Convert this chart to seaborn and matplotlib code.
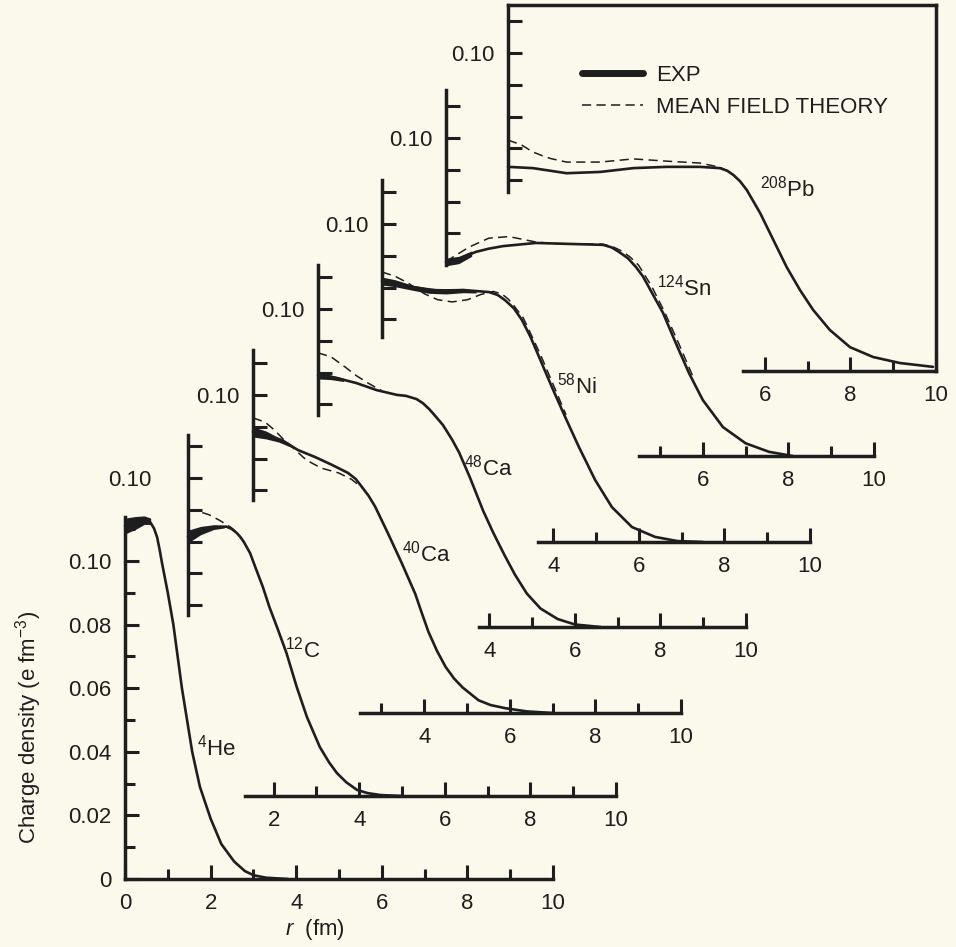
import numpy as np
import matplotlib
matplotlib.use("Agg")
import matplotlib.pyplot as plt
import seaborn as sns
from matplotlib.lines import Line2D

sns.set_theme(style="white")
plt.rcParams["font.family"] = ["Liberation Sans", "DejaVu Sans"]
plt.rcParams["mathtext.fontset"] = "custom"
plt.rcParams["mathtext.rm"] = "Liberation Sans"
plt.rcParams["mathtext.it"] = "Liberation Sans:italic"
plt.rcParams["mathtext.bf"] = "Liberation Sans:bold"

# ---------------- data (r in fm, charge density in e fm^-3) ----------------
nuclei = ["4He", "12C", "40Ca", "48Ca", "58Ni", "124Sn", "208Pb"]
labels = [r"$\mathregular{^{4}}$He", r"$\mathregular{^{12}}$C", r"$\mathregular{^{40}}$Ca",
          r"$\mathregular{^{48}}$Ca", r"$\mathregular{^{58}}$Ni", r"$\mathregular{^{124}}$Sn",
          r"$\mathregular{^{208}}$Pb"]

he_r = [0, 0.15, 0.3, 0.45, 0.6, 0.68, 0.75, 0.81, 0.87, 1.0, 1.13, 1.23, 1.33, 1.45, 1.57, 1.75, 2.0, 2.25,
        2.55, 2.8, 3.0, 3.3, 3.8]
he_rho = [0.111, 0.1125, 0.1132, 0.1132, 0.112, 0.1102, 0.1075, 0.1035, 0.099, 0.090, 0.080, 0.070, 0.060,
          0.050, 0.040, 0.029, 0.019, 0.011, 0.0055, 0.0025, 0.0012, 0.0004, 0.0]
he_band_r = [0, 0.25, 0.45, 0.6]
he_band_lo = [0.1085, 0.110, 0.1115, 0.1115]
he_band_hi = [0.1135, 0.1140, 0.1142, 0.1135]

c_r = [0, 0.3, 0.6, 0.9, 1.02, 1.14, 1.22, 1.3, 1.45, 1.6, 1.75, 1.9, 2.08, 2.3, 2.54, 2.78, 3.08, 3.3, 3.48,
       3.7, 3.95, 4.2, 4.5, 5.0]
c_rho = [0.0816, 0.0835, 0.0846, 0.0847, 0.0840, 0.0827, 0.0815, 0.080, 0.0764, 0.071, 0.0657, 0.0595, 0.0531,
         0.045, 0.0343, 0.0248, 0.0154, 0.0105, 0.0072, 0.0043, 0.0019, 0.0009, 0.0003, 0.0]
c_band_r = [0, 0.3, 0.6, 0.85]
c_band_lo = [0.0796, 0.0822, 0.0838, 0.0843]
c_band_hi = [0.0836, 0.0848, 0.0853, 0.0851]
c_th_r = [0, 0.25, 0.5, 0.75, 1.0, 1.2]
c_th_rho = [0.0899, 0.0895, 0.0884, 0.0866, 0.0845, 0.0822]

ca40_r = [0, 0.28, 0.68, 1.05, 1.45, 1.85, 2.22, 2.4, 2.55, 2.7, 2.85, 3.15, 3.48, 3.79, 3.95, 4.1, 4.3, 4.5,
          4.7, 4.9, 5.27, 5.55, 5.9, 6.4, 7.0]
ca40_rho = [0.0884, 0.0874, 0.0858, 0.0827, 0.0805, 0.078, 0.0755, 0.0736, 0.071, 0.0683, 0.065, 0.0566, 0.047,
            0.0375, 0.0312, 0.0255, 0.0195, 0.0145, 0.0108, 0.0080, 0.004, 0.0025, 0.0015, 0.0005, 0.0]
ca40_band_r = [0, 0.3, 0.6, 0.9]
ca40_band_lo = [0.0868, 0.0862, 0.0852, 0.0835]
ca40_band_hi = [0.0900, 0.0887, 0.0866, 0.0842]
ca40_th_r = [0, 0.28, 0.5, 0.7, 0.95, 1.25, 1.6, 2.0, 2.3, 2.55]
ca40_th_rho = [0.0928, 0.0915, 0.089, 0.0862, 0.0832, 0.0795, 0.0770, 0.0755, 0.0735, 0.0708]

ca48_r = [0, 0.44, 0.9, 1.37, 1.84, 2.05, 2.3, 2.45, 2.6, 2.75, 2.92, 3.13, 3.3, 3.55, 3.86, 4.1, 4.35, 4.6,
          4.88, 5.2, 5.6, 6.0, 6.6]
ca48_rho = [0.0792, 0.0783, 0.0767, 0.0745, 0.0730, 0.0727, 0.0717, 0.0704, 0.0685, 0.0662, 0.0635, 0.0590,
            0.0548, 0.0470, 0.0365, 0.0295, 0.0228, 0.0165, 0.0105, 0.0058, 0.0025, 0.0008, 0.0]
ca48_band_r = [0, 0.3, 0.6]
ca48_band_lo = [0.0780, 0.0778, 0.0772]
ca48_band_hi = [0.0803, 0.0793, 0.0782]
ca48_th_r = [0, 0.3, 0.64, 0.9, 1.17, 1.5]
ca48_th_rho = [0.0862, 0.0850, 0.0817, 0.0790, 0.0767, 0.0742]

ni_r = [0, 0.23, 0.7, 1.33, 1.94, 2.5, 2.7, 2.88, 3.08, 3.27, 3.47, 3.67, 3.97, 4.28, 4.6, 4.98, 5.37, 5.84,
        6.38, 6.9, 7.5]
ni_rho = [0.082, 0.0814, 0.0802, 0.079, 0.0792, 0.0786, 0.0777, 0.076, 0.0735, 0.0698, 0.0645, 0.0582, 0.0487,
          0.0393, 0.0299, 0.0195, 0.011, 0.0047, 0.0016, 0.0003, 0.0]
ni_band_r = [0, 0.3, 0.7, 1.1, 1.5, 1.9, 2.2]
ni_band_lo = [0.0808, 0.0803, 0.0792, 0.0782, 0.0780, 0.0784, 0.0783]
ni_band_hi = [0.0833, 0.0825, 0.0808, 0.0798, 0.0797, 0.0798, 0.0789]
ni_th_r = [0, 0.3, 0.6, 1.0, 1.3, 1.64, 2.0, 2.3, 2.6, 2.8, 2.95, 3.1, 3.3, 3.7, 4.0, 4.3]
ni_th_rho = [0.0849, 0.0836, 0.0815, 0.078, 0.0762, 0.0755, 0.0762, 0.0778, 0.0788, 0.0780, 0.0764, 0.0740,
             0.0705, 0.0590, 0.0495, 0.0400]

sn_r = [0, 0.23, 0.7, 1.0, 1.33, 2.1, 2.87, 3.67, 3.87, 4.04, 4.25, 4.44, 4.6, 4.74, 5.07, 5.37, 5.68, 6.0, 6.47,
        7.0, 7.55, 8.1]
sn_rho = [0.061, 0.0616, 0.0642, 0.0652, 0.066, 0.067, 0.0667, 0.0664, 0.0656, 0.0642, 0.0622, 0.0594, 0.0565,
          0.0531, 0.045, 0.0355, 0.026, 0.0176, 0.0091, 0.004, 0.0013, 0.0]
sn_band_r = [0, 0.3, 0.6]
sn_band_lo = [0.0598, 0.0605, 0.0628]
sn_band_hi = [0.0622, 0.0628, 0.0645]
sn_th_r = [0, 0.54, 1.0, 1.47, 2.1, 2.5, 3.0, 3.67, 3.9, 4.1, 4.3, 4.5, 4.8, 5.1, 5.45, 5.8]
sn_th_rho = [0.0612, 0.0657, 0.0685, 0.069, 0.0673, 0.0668, 0.0667, 0.0666, 0.0658, 0.0645, 0.0626, 0.0600,
             0.0535, 0.0455, 0.0350, 0.0240]

pb_r = [0, 0.58, 1.37, 2.15, 2.93, 3.7, 4.48, 4.95, 5.12, 5.27, 5.42, 5.58, 5.89, 6.2, 6.51, 6.82, 7.13, 7.52,
        7.99, 8.53, 9.16, 9.93]
pb_rho = [0.0642, 0.0638, 0.0622, 0.0626, 0.0638, 0.0642, 0.0642, 0.0638, 0.0630, 0.0616, 0.0597, 0.0569, 0.0497,
          0.0412, 0.0327, 0.0255, 0.0192, 0.0129, 0.0075, 0.0044, 0.0025, 0.0013]
pb_th_r = [0, 0.3, 0.58, 0.8, 1.0, 1.37, 2.15, 2.93, 3.7, 4.48, 4.95, 5.27]
pb_th_rho = [0.0726, 0.0712, 0.0689, 0.0677, 0.0668, 0.0657, 0.0657, 0.0667, 0.066, 0.0654, 0.0641, 0.0618]

exp_r = [he_r, c_r, ca40_r, ca48_r, ni_r, sn_r, pb_r]
exp_rho = [he_rho, c_rho, ca40_rho, ca48_rho, ni_rho, sn_rho, pb_rho]
band_r = [he_band_r, c_band_r, ca40_band_r, ca48_band_r, ni_band_r, sn_band_r, None]
band_lo = [he_band_lo, c_band_lo, ca40_band_lo, ca48_band_lo, ni_band_lo, sn_band_lo, None]
band_hi = [he_band_hi, c_band_hi, ca40_band_hi, ca48_band_hi, ni_band_hi, sn_band_hi, None]
th_r = [None, c_th_r, ca40_th_r, ca48_th_r, ni_th_r, sn_th_r, pb_th_r]
th_rho = [None, c_th_rho, ca40_th_rho, ca48_th_rho, ni_th_rho, sn_th_rho, pb_th_rho]

x_major = [[0, 2, 4, 6, 8, 10], [2, 4, 6, 8, 10], [4, 6, 8, 10], [4, 6, 8, 10], [4, 6, 8, 10], [6, 8, 10], [6, 8, 10]]
x_minor = [[1, 3, 5, 7, 9], [3, 5, 7, 9], [3, 5, 7, 9], [5, 7, 9], [5, 7, 9], [5, 7, 9], [7, 9]]
y_ticks = [[0.01, 0.03, 0.05, 0.07, 0.09, 0.11], [0.06, 0.07, 0.08, 0.09, 0.10, 0.11],
           [0.07, 0.08, 0.09, 0.10, 0.11], [0.07, 0.08, 0.09, 0.10, 0.11],
           [0.07, 0.08, 0.09, 0.10, 0.11], [0.07, 0.08, 0.09, 0.10, 0.11],
           [0.06, 0.07, 0.08, 0.09, 0.10, 0.11]]
he_y_major = [0, 0.02, 0.04, 0.06, 0.08, 0.10]
he_y_labels = ["0", "0.02", "0.04", "0.06", "0.08", "0.10"]

# ---------------- layout ----------------
W, H = 956, 947
PAPER = "#fbf8ec"
INK = "#1e1e1e"
PX_PER_FM = 42.8
YTOP = 0.1151
AX_H = 366
origins = [(125, 879), (188, 796), (253, 713), (318, 627), (382, 542), (446, 456), (508, 371)]
x_spine_start = [0, 1.33, 2.5, 3.75, 3.64, 4.5, 5.5]
y_spine = [(0, 0.1138), (0.057, 0.1135), (0.067, 0.114), (0.0667, 0.1138), (0.0645, 0.1138), (0.060, 0.1151),
           (0.0563, YTOP)]
label_pos = [(2.13, 0.0412), (2.69, 0.0459), (4.04, 0.0503), (3.97, 0.0503), (4.56, 0.0491), (5.56, 0.0531),
             (6.52, 0.0575)]
ylabel_pad = [10, 26, 10, 10, 10, 10, 10]
FS = 16

fig = plt.figure(figsize=(W / 100, H / 100), dpi=100)
fig.patch.set_facecolor(PAPER)

axes = []
for i, (x0, y0) in enumerate(origins):
    ax = fig.add_axes([x0 / W, (H - y0) / H, 10 * PX_PER_FM / W, AX_H / H])
    ax.patch.set_alpha(0)
    ax.set_xlim(0, 10)
    ax.set_ylim(0, YTOP)
    for s in ["top", "right", "left", "bottom"]:
        ax.spines[s].set_color(INK)
        ax.spines[s].set_linewidth(2.5)
    if i < 6:
        ax.spines["top"].set_visible(False)
        ax.spines["right"].set_visible(False)
    ax.spines["left"].set_bounds(*y_spine[i])
    ax.spines["bottom"].set_bounds(x_spine_start[i], 10)

    ax.set_xticks(x_major[i])
    ax.set_xticklabels([str(v) for v in x_major[i]])
    ax.set_xticks(x_minor[i], minor=True)
    if i == 0:
        ax.set_yticks(he_y_major)
        ax.set_yticklabels(he_y_labels)
        ax.set_yticks(y_ticks[i], minor=True)
    else:
        ax.set_yticks(y_ticks[i])
        ax.set_yticklabels(["0.10" if abs(v - 0.10) < 1e-9 else "" for v in y_ticks[i]])
        ax.set_yticks([], minor=True)
    ax.tick_params(axis="both", which="major", direction="in", length=10, width=2.2, color=INK,
                   labelsize=FS, labelcolor=INK, bottom=True, left=True)
    ax.tick_params(axis="both", which="minor", direction="in", length=7, width=2.2, color=INK,
                   bottom=True, left=True)
    ax.tick_params(axis="x", which="major", pad=10)
    ax.tick_params(axis="y", which="major", pad=ylabel_pad[i])
    ax.grid(False)

    if band_r[i] is not None:
        ax.fill_between(band_r[i], band_lo[i], band_hi[i], color=INK, linewidth=0, clip_on=False, zorder=3)
    sns.lineplot(x=exp_r[i], y=exp_rho[i], ax=ax, color=INK, linewidth=1.9, estimator=None, sort=False,
                 clip_on=False, zorder=4, legend=False)
    if th_r[i] is not None:
        sns.lineplot(x=th_r[i], y=th_rho[i], ax=ax, color=INK, linewidth=1.1, estimator=None, sort=False,
                     linestyle=(0, (6, 3.5)), clip_on=False, zorder=4, legend=False)
    ax.text(label_pos[i][0], label_pos[i][1], labels[i], fontsize=FS, color=INK, ha="center", va="center")
    ax.set_xlabel("")
    ax.set_ylabel("")
    axes.append(ax)

ax_he = axes[0]
ax_he.set_xlabel(r"$r$  (fm)", fontsize=FS, color=INK, va="center")
ax_he.xaxis.set_label_coords(0.444, -0.137)
ax_he.set_ylabel(r"Charge density (e fm$\mathregular{^{-3}}$)", fontsize=FS, color=INK)
ax_he.yaxis.set_label_coords(-0.19, 0.415)

handles = [Line2D([], [], color=INK, linewidth=5),
           Line2D([], [], color=INK, linewidth=1.1, linestyle=(0, (6, 3.5)))]
fig.legend(handles, ["EXP", "MEAN FIELD THEORY"], loc="upper left",
           bbox_to_anchor=(582 / W, 1 - 65 / H), bbox_transform=fig.transFigure, frameon=False,
           fontsize=FS, handlelength=2.75, handletextpad=0.6, labelspacing=0.5, borderpad=0,
           borderaxespad=0, labelcolor=INK)

fig.savefig("out.png", dpi=100, facecolor=PAPER)
